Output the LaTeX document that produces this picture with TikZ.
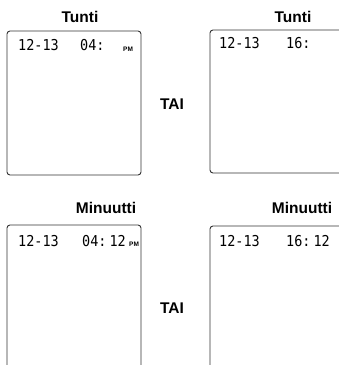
\documentclass[tikz,border=0pt]{standalone}
\usepackage{fontspec}
\setmainfont{Liberation Sans}
\newfontfamily\lcdfont[FakeStretch=0.9]{DejaVu Sans Mono}
\begin{document}
\begin{tikzpicture}[x=1pt,y=-1pt,
  title/.style={font=\fontsize{15.5}{17}\selectfont\bfseries, inner sep=0pt},
  lcd/.style={font=\lcdfont\fontsize{15}{16}\selectfont, inner sep=0pt, anchor=west, text=black},
  pm/.style={font=\fontsize{6.5}{7}\selectfont\bfseries, inner sep=0pt, anchor=south west, text=black},
  screen/.style={draw=black!80, line width=0.9pt, rounded corners=3pt}]
\useasboundingbox (0,0) rectangle (339,365);
\clip (0,0) rectangle (339,365);
% screens
\draw[screen] (7,31) rectangle (141,175);
\draw[screen] (210,30) rectangle (350,173);
\draw[screen] (7,225) rectangle (141,375);
\draw[screen] (210,226) rectangle (350,375);
% titles
\node[title] (t1) at (80,17) {Tunti};
\node[title] (t2) at (293,17) {Tunti};
\node[title] (m1) at (106,208) {Minuutti};
\node[title] (m2) at (302,208) {Minuutti};
\node[title] (or1) at (172,104) {TAI};
\node[title] (or2) at (172,308) {TAI};
% LCD texts
\node[lcd] (a1) at (18,45) {12-13};
\node[lcd] (a2) at (80,45) {04:};
\node[pm] (a3) at (123,52) {PM};
\node[lcd] (b1) at (219,43) {12-13};
\node[lcd] (b2) at (286,43) {16:};
\node[lcd] (c1) at (18,241) {12-13};
\node[lcd] (c2) at (82,241) {04:\hspace{3pt}12};
\node[pm] (c3) at (129,247) {PM};
\node[lcd] (d1) at (219,241) {12-13};
\node[lcd] (d2) at (286,241) {16:\hspace{3pt}12};
\end{tikzpicture}
\end{document}
